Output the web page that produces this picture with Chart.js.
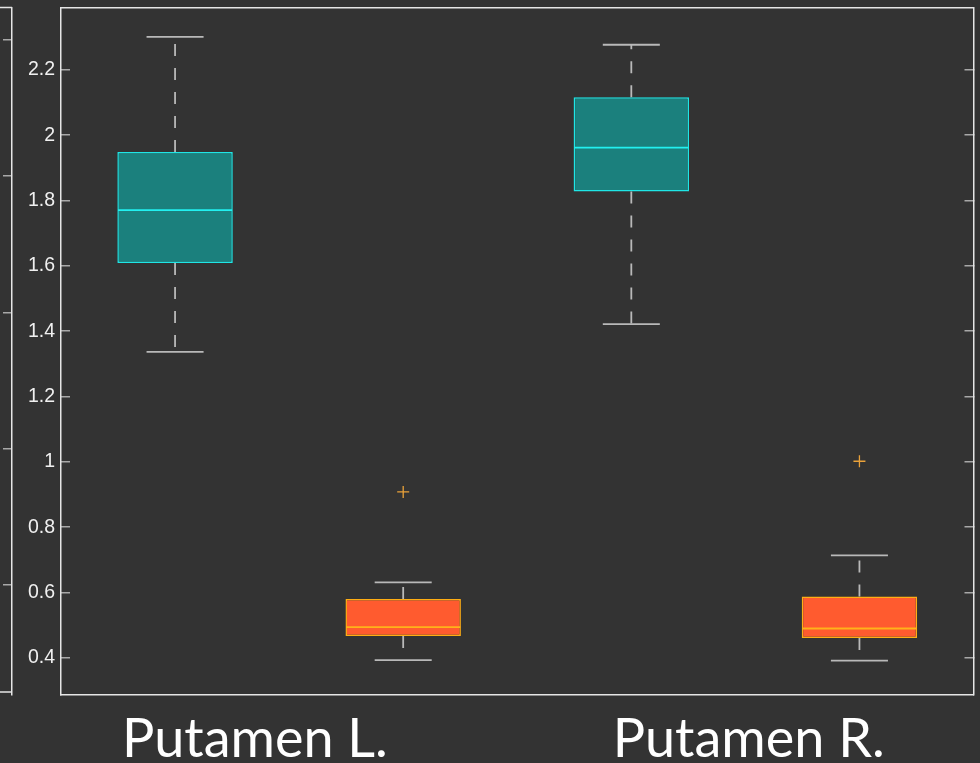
<!DOCTYPE html>
<html><head><meta charset="utf-8">
<script src="https://cdn.jsdelivr.net/npm/chart.js@4.4.1/dist/chart.umd.min.js"></script>
<style>html,body{margin:0;padding:0;background:#333333;overflow:hidden}#wrap{width:980px;height:763px}</style>
</head><body><div id="wrap"><canvas id="c" width="980" height="763"></canvas></div>
<script>
// ---- data ----
const groupLabels = ['Putamen L.', 'Putamen R.'];
const groupLabelPos = [1.35, 3.515];
const boxPos = [1, 2, 3, 4];
const boxKind = ['teal', 'orange', 'teal', 'orange'];
const whiskerLow = [1.337, 0.393, 1.422, 0.392];
const q1 = [1.609, 0.467, 1.828, 0.461];
const median = [1.771, 0.494, 1.962, 0.490];
const q3 = [1.949, 0.580, 2.116, 0.588];
const whiskerHigh = [2.301, 0.631, 2.277, 0.714];
const outlierPos = [2, 4];
const outlierVal = [0.908, 1.002];
const yTicks = [0.4, 0.6, 0.8, 1.0, 1.2, 1.4, 1.6, 1.8, 2.0, 2.2];
const yRange = [0.288, 2.391];
const xRange = [0.5, 4.5];
const neighbourTicks = [0, 1, 2, 3, 4];
const neighbourRange = [-0.804, 4.2385];

// ---- styles ----
const fill = { teal: '#1b807d', orange: '#ff5b2f' };
const edge = { teal: '#1fe6e6', orange: '#ffae14' };
const medianCol = { teal: '#22f0f0', orange: '#ffb21a' };
const whiskerCol = '#b9b9b9';
const frameCol = '#e6e6e6';
const tickCol = '#a8a8a8';
const boxHalf = 0.25, capHalf = 0.125;

const datasets = [];
datasets.push({
  type: 'bar', label: 'box', order: 10,
  data: boxPos.map((x, i) => ({ x: x, y: [q1[i], q3[i]] })),
  backgroundColor: boxKind.map(k => fill[k]),
  borderColor: boxKind.map(k => edge[k]),
  borderWidth: 1.5, borderSkipped: false,
  barPercentage: 0.506, categoryPercentage: 1,
  xAxisID: 'x', yAxisID: 'y'
});
boxPos.forEach((x, i) => {
  const k = boxKind[i];
  datasets.push({
    type: 'line', label: 'whisker' + i, order: 5,
    data: [{ x: x, y: q3[i] }, { x: x, y: whiskerHigh[i] }, { x: x, y: null },
           { x: x, y: q1[i] }, { x: x, y: whiskerLow[i] }],
    borderColor: whiskerCol, borderWidth: 1.8, borderDash: [12, 12], borderCapStyle: 'butt',
    pointRadius: 0, spanGaps: false, xAxisID: 'x', yAxisID: 'y'
  });
  datasets.push({
    type: 'line', label: 'cap' + i, order: 5,
    data: [{ x: x - capHalf, y: whiskerHigh[i] }, { x: x + capHalf, y: whiskerHigh[i] }, { x: x, y: null },
           { x: x - capHalf, y: whiskerLow[i] }, { x: x + capHalf, y: whiskerLow[i] }],
    borderColor: whiskerCol, borderWidth: 1.8, borderCapStyle: 'butt',
    pointRadius: 0, spanGaps: false, xAxisID: 'x', yAxisID: 'y'
  });
  datasets.push({
    type: 'line', label: 'median' + i, order: 1,
    data: [{ x: x - boxHalf, y: median[i] }, { x: x + boxHalf, y: median[i] }],
    borderColor: medianCol[k], borderWidth: 1.8, borderCapStyle: 'butt',
    pointRadius: 0, xAxisID: 'x', yAxisID: 'y'
  });
});
datasets.push({
  type: 'line', label: 'outliers', order: 0, showLine: false,
  data: outlierPos.map((x, i) => ({ x: x, y: outlierVal[i] })),
  pointStyle: 'cross', pointRadius: 6, pointBorderColor: '#eaa23a', pointBorderWidth: 1.3,
  xAxisID: 'x', yAxisID: 'y'
});

const setTicks = arr => s => { s.ticks = arr.map(v => ({ value: v })); };
const fitTo = (dim, size) => s => {
  s[dim] = size;
  s.paddingTop = 0; s.paddingBottom = 0; s.paddingLeft = 0; s.paddingRight = 0;
};

const stubs = {
  id: 'neighbourStubs',
  afterDraw(chart) {
    const s = chart.scales.yN, ca = chart.chartArea, ctx = chart.ctx;
    ctx.save();
    ctx.strokeStyle = frameCol; ctx.lineWidth = 1.5;
    ctx.beginPath();
    ctx.moveTo(s.left, ca.top); ctx.lineTo(s.right, ca.top);
    ctx.moveTo(s.left, ca.bottom - 2.5); ctx.lineTo(s.right, ca.bottom - 2.5);
    ctx.stroke();
    ctx.restore();
  }
};

new Chart(document.getElementById('c'), {
  type: 'bar',
  data: { datasets: datasets },
  plugins: [stubs],
  options: {
    responsive: false, animation: false,
    layout: { padding: 0, autoPadding: false },
    plugins: { legend: { display: false }, tooltip: { enabled: false } },
    scales: {
      x: {
        type: 'linear', position: 'bottom', min: xRange[0], max: xRange[1], offset: false,
        grid: { display: false },
        border: { display: true, color: frameCol, width: 1.5 },
        afterBuildTicks: setTicks(groupLabelPos),
        ticks: { callback: (v, i) => groupLabels[i], font: { family: 'Lato', size: 54 }, color: '#ffffff',
                 padding: 4.5, maxRotation: 0, autoSkip: false },
        afterFit: fitTo('height', 68.5)
      },
      xTop: {
        type: 'linear', position: 'top', min: xRange[0], max: xRange[1],
        grid: { display: false }, ticks: { display: false },
        border: { display: true, color: frameCol, width: 1.5 },
        afterFit: fitTo('height', 7.5)
      },
      y: {
        type: 'linear', position: 'left', weight: 0, min: yRange[0], max: yRange[1],
        grid: { drawOnChartArea: false, drawTicks: true, tickLength: -9, color: tickCol, lineWidth: 1.5 },
        border: { display: true, color: frameCol, width: 1.5 },
        afterBuildTicks: setTicks(yTicks),
        ticks: { callback: v => String(Math.round(v * 10) / 10), font: { family: 'Liberation Sans', size: 19.5 },
                 color: '#f0f0f0', padding: 15 },
        afterFit: fitTo('width', 49)
      },
      y2: {
        type: 'linear', position: 'right', min: yRange[0], max: yRange[1],
        grid: { drawOnChartArea: false, drawTicks: true, tickLength: -9, color: tickCol, lineWidth: 1.5 },
        border: { display: true, color: frameCol, width: 1.5 },
        afterBuildTicks: setTicks(yTicks),
        ticks: { display: false },
        afterFit: fitTo('width', 6.5)
      },
      yN: {
        type: 'linear', position: 'left', weight: 10, min: neighbourRange[0], max: neighbourRange[1],
        grid: { drawOnChartArea: false, drawTicks: true, tickLength: 9, color: tickCol, lineWidth: 1.5 },
        border: { display: true, color: frameCol, width: 1.5 },
        afterBuildTicks: setTicks(neighbourTicks),
        ticks: { display: false },
        afterFit: fitTo('width', 12)
      }
    }
  }
});
</script></body></html>
